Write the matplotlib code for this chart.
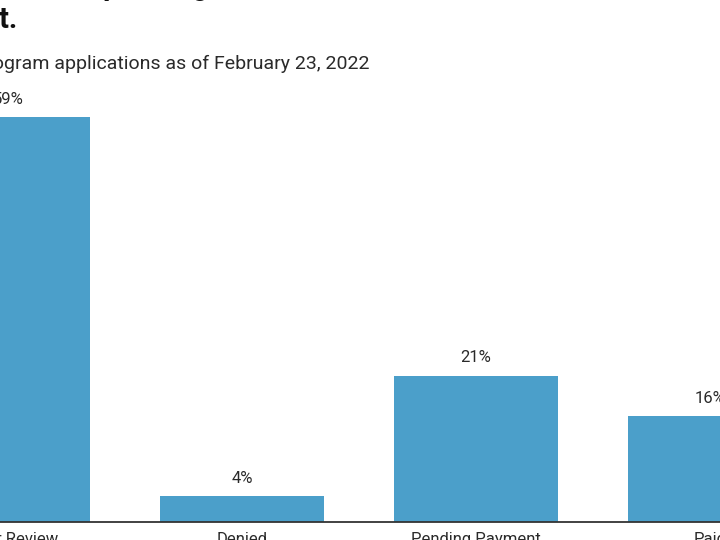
import matplotlib
matplotlib.use("Agg")
import matplotlib.pyplot as plt

categories = ["Under Review", "Denied", "Pending Payment", "Paid"]
values = [59, 3.8, 21.3, 15.4]
value_labels = ["59%", "4%", "21%", "16%"]
title_line1 = "Most rental assistance applications are pending or under review"
title_line2 = "payment."
subtitle = "Status of rental assistance program applications as of February 23, 2022"

plt.rcParams['font.family'] = ['Roboto', 'DejaVu Sans']

fig = plt.figure(figsize=(7.2, 5.4), dpi=100)
W, H = 720, 540
base_px = 522
px_per_unit = 6.864
cat_px = 234
first_center_px = 8

ax = fig.add_axes([0, (H - base_px) / H, 1, base_px / H])
x = list(range(len(categories)))
ax.bar(x, values, width=0.70, color="#4b9fca", zorder=2)
ax.set_xlim(-first_center_px / cat_px, (W - first_center_px) / cat_px)
ax.set_ylim(0, base_px / px_per_unit)
for xi, v, lab in zip(x, values, value_labels):
    ax.annotate(lab, (xi, v), xytext=(0, 7.5), textcoords="offset points",
                ha="center", va="bottom", fontsize=12, color="#2a2a2a")
ax.set_xticks(x)
ax.set_xticklabels(categories, fontsize=12, color="#2a2a2a")
ax.tick_params(axis="x", length=0, pad=7)
ax.set_yticks([])
for s in ["top", "left", "right"]:
    ax.spines[s].set_visible(False)
ax.spines["bottom"].set_color("#333333")
ax.spines["bottom"].set_linewidth(1.3)
ax.patch.set_alpha(0)

fig.text(370 / W, 1 - 64 / H, subtitle, ha="right", va="center",
         fontsize=14, color="#2a2a2a")
fig.text(18 / W, 1 - 20 / H, title_line2, ha="right", va="center",
         fontsize=21, fontweight="bold", color="#111111")
fig.text(420 / W, 1 + 13 / H, title_line1, ha="right", va="center",
         fontsize=21, fontweight="bold", color="#111111")

fig.savefig("out.png", dpi=100)
